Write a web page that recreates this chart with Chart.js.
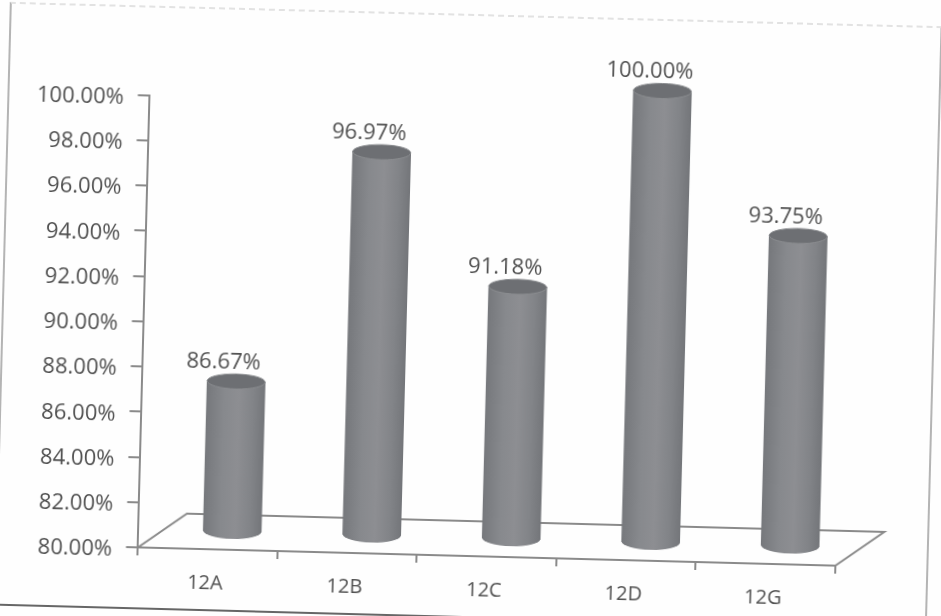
<!DOCTYPE html>
<html>
<head>
<meta charset="utf-8">
<script src="https://cdn.jsdelivr.net/npm/chart.js@4/dist/chart.umd.min.js"></script>
<style>
html,body{margin:0;padding:0;background:#fefefe;overflow:hidden;width:941px;height:616px}
#wrap{position:absolute;left:0;top:0;width:941px;height:616px;transform:rotate(1.5deg);transform-origin:470px 308px}
#frame{position:absolute;left:2px;top:14px;width:929px;height:600px;border-left:2px solid #b4b4b4;border-right:2px solid #b4b4b4;border-bottom:2px solid #666;border-top:2px dashed #e2e2e2}
canvas{position:absolute;left:0;top:0}
</style>
</head>
<body>
<div id="wrap"><div id="frame"></div><canvas id="c" width="941" height="616"></canvas></div>
<script>
const categories = ["12A", "12B", "12C", "12D", "12G"];
const passRates = [86.67, 96.97, 91.18, 100.00, 93.75];
const axisMin = 80;
const axisMax = 100;
const axisStep = 2;

const textColor = "#505050";
const lineColor = "#8a8a8a";
const fontFamily = "'Open Sans', sans-serif";
const depthX = 48, depthY = 35;
const capRy = 7.5;

function cylinderFill(ctx, x, w) {
  const g = ctx.createLinearGradient(x - w / 2, 0, x + w / 2, 0);
  g.addColorStop(0, "#76787c");
  g.addColorStop(0.3, "#87898d");
  g.addColorStop(0.55, "#8d8e92");
  g.addColorStop(0.8, "#828488");
  g.addColorStop(1, "#74767a");
  return g;
}

const floorAndCylinders = {
  id: "floorAndCylinders",
  beforeDatasetsDraw(chart) {
    const { ctx, chartArea: a } = chart;
    ctx.save();
    ctx.strokeStyle = lineColor;
    ctx.lineWidth = 2;
    ctx.beginPath();
    ctx.moveTo(a.left, a.bottom);
    ctx.lineTo(a.left + depthX, a.bottom - depthY);
    ctx.lineTo(a.right + depthX, a.bottom - depthY);
    ctx.lineTo(a.right, a.bottom);
    ctx.stroke();
    ctx.restore();
  },
  beforeDatasetDraw(chart) {
    const { ctx } = chart;
    ctx.save();
    ctx.translate(depthX / 2, -depthY / 2);
    chart.getDatasetMeta(0).data.forEach(el => {
      const w = el.width;
      ctx.fillStyle = cylinderFill(ctx, el.x, w);
      ctx.beginPath();
      ctx.ellipse(el.x, el.base, w / 2, capRy, 0, 0, Math.PI * 2);
      ctx.fill();
    });
  },
  afterDatasetDraw(chart) {
    const { ctx } = chart;
    chart.getDatasetMeta(0).data.forEach(el => {
      ctx.fillStyle = "#6d6f73";
      ctx.strokeStyle = "#8b8d90";
      ctx.lineWidth = 1;
      ctx.beginPath();
      ctx.ellipse(el.x, el.y, el.width / 2, capRy, 0, 0, Math.PI * 2);
      ctx.fill();
      ctx.stroke();
    });
    ctx.restore();
    ctx.save();
    ctx.fillStyle = textColor;
    ctx.font = "22px " + fontFamily;
    ctx.textAlign = "center";
    ctx.textBaseline = "middle";
    chart.getDatasetMeta(0).data.forEach((el, i) => {
      ctx.fillText(passRates[i].toFixed(2) + "%", el.x + 11, el.y - depthY / 2 - 19);
    });
    ctx.restore();
  }
};

new Chart(document.getElementById("c"), {
  type: "bar",
  data: {
    labels: categories,
    datasets: [{
      data: passRates,
      base: axisMin,
      barThickness: 58,
      clip: false,
      borderWidth: 0,
      backgroundColor: c => {
        const x = c.chart.scales.x ? c.chart.scales.x.getPixelForValue(c.dataIndex) : NaN;
        return Number.isFinite(x) ? cylinderFill(c.chart.ctx, x, 58) : "#85878b";
      }
    }]
  },
  options: {
    responsive: false,
    animation: false,
    events: [],
    layout: { padding: { left: 0, right: 99, top: 103.5, bottom: 0 } },
    plugins: { legend: { display: false }, tooltip: { enabled: false }, title: { display: false } },
    scales: {
      x: {
        afterFit: s => { s.height = 60; },
        border: { color: lineColor, width: 2 },
        grid: { display: true, drawOnChartArea: false, drawTicks: true, tickLength: 8, color: lineColor, lineWidth: 2 },
        ticks: { color: textColor, padding: 14, labelOffset: -2, font: { family: fontFamily, size: 20 }, maxRotation: 0 }
      },
      y: {
        min: axisMin,
        max: axisMax,
        afterFit: s => { s.width = 144.4; },
        border: { color: lineColor, width: 2 },
        grid: { display: true, drawOnChartArea: false, drawTicks: true, tickLength: 12, color: lineColor, lineWidth: 2 },
        ticks: {
          stepSize: axisStep,
          color: textColor,
          padding: 14,
          labelOffset: 3,
          font: { family: fontFamily, size: 22 },
          callback: v => v.toFixed(2) + "%"
        }
      }
    }
  },
  plugins: [floorAndCylinders]
});
</script>
</body>
</html>
